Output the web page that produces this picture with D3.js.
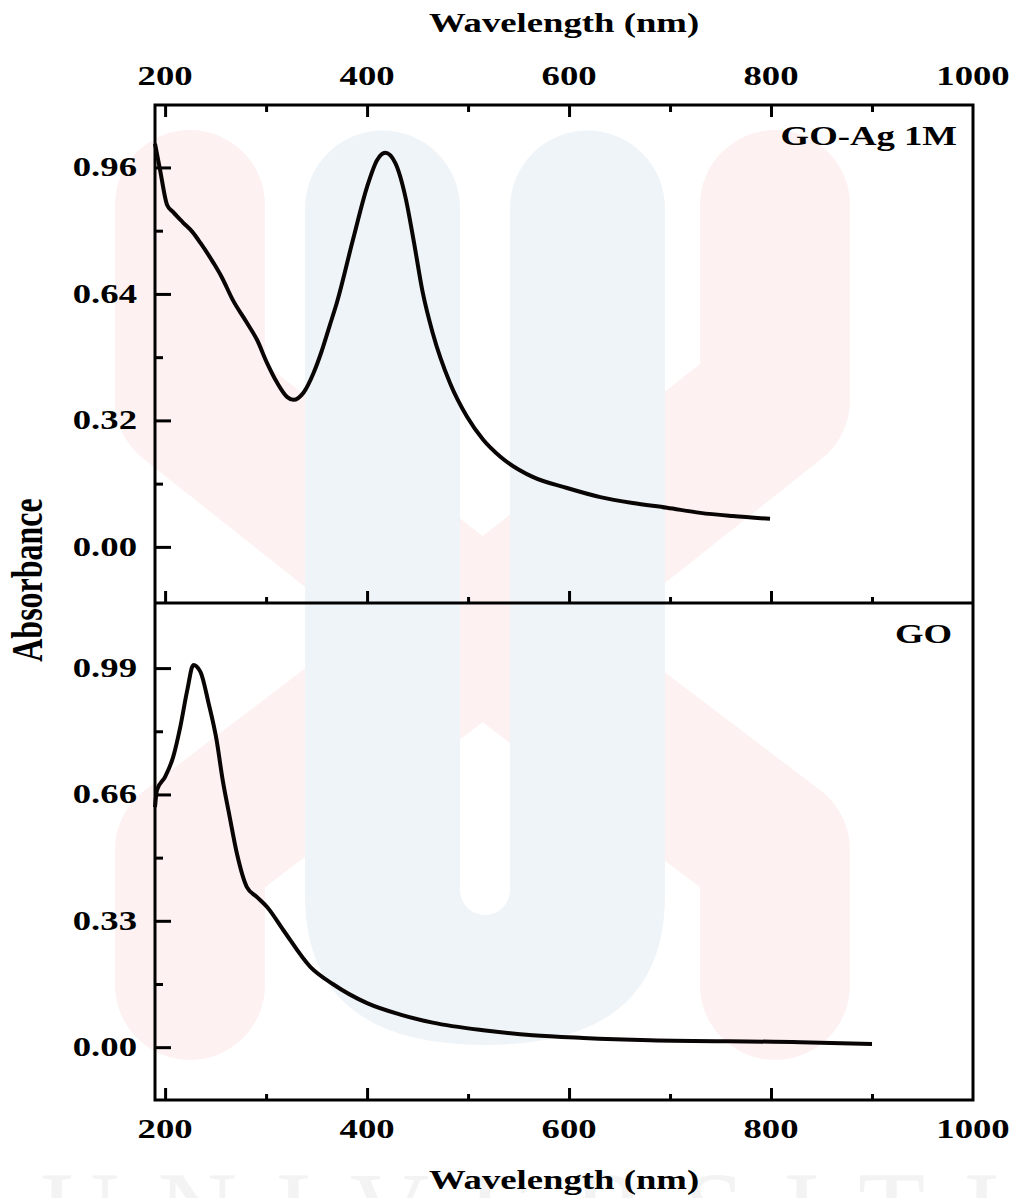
<!DOCTYPE html>
<html>
<head>
<meta charset="utf-8">
<script src="https://cdn.jsdelivr.net/npm/d3@7"></script>
<style>
  body { margin: 0; background: #fff; }
  text { font-family: "Liberation Serif", "Times New Roman", serif; font-weight: bold; fill: #000; }
</style>
</head>
<body>
<div id="chart"></div>
<script>
// Data
var agWavelength = [190, 195, 202, 208, 218, 227, 235, 248, 256, 267, 281, 291, 301, 311, 321, 327, 337, 347, 355, 363, 370, 386, 400, 410, 418, 428, 438, 446, 455, 465, 482, 499, 515, 532, 564, 598, 631, 663, 697, 730, 762, 799];
var agAbsorbance = [1.02, 0.954, 0.865, 0.847, 0.82, 0.797, 0.769, 0.718, 0.683, 0.625, 0.567, 0.524, 0.465, 0.415, 0.379, 0.372, 0.39, 0.44, 0.495, 0.56, 0.617, 0.777, 0.911, 0.979, 0.997, 0.971, 0.885, 0.777, 0.645, 0.541, 0.415, 0.329, 0.271, 0.228, 0.177, 0.149, 0.126, 0.111, 0.099, 0.086, 0.078, 0.071];

var goWavelength = [190, 192, 200, 208, 215, 222, 228, 235, 243, 251, 257, 264, 271, 281, 291, 301, 317, 344, 366, 400, 433, 465, 515, 564, 614, 680, 829, 900];
var goAbsorbance = [0.627, 0.672, 0.706, 0.758, 0.836, 0.933, 0.998, 0.98, 0.899, 0.802, 0.698, 0.601, 0.507, 0.418, 0.392, 0.366, 0.306, 0.209, 0.165, 0.115, 0.085, 0.064, 0.044, 0.031, 0.024, 0.018, 0.013, 0.008];

var xTicks = [200, 400, 600, 800, 1000];
var xMinor = [300, 500, 700, 900];
var agTicks = [0, 0.32, 0.64, 0.96];
var agMinor = [0.16, 0.48, 0.80];
var goTicks = [0, 0.33, 0.66, 0.99];
var goMinor = [0.165, 0.495, 0.825];

var svgWidth = 1017;
var svgHeight = 1198;
var plotLeft = 155, plotRight = 973, plotTop = 105, plotMid = 603, plotBottom = 1100;
var stretch = "scale(1.36,1)";

var svg = d3.select("#chart")
  .append("svg")
  .attr("width", svgWidth)
  .attr("height", svgHeight);

// faint watermark in the background
var wm = svg.append("g");
wm.append("path")
  .attr("d", "M190,205 L190,400 L480,630 L190,850 L190,985 M775,205 L775,400 L485,630 L775,850 L775,985")
  .attr("fill", "none")
  .attr("stroke", "#fdf1f1")
  .attr("stroke-width", 150)
  .attr("stroke-linejoin", "round")
  .attr("stroke-linecap", "round");
wm.append("path")
  .attr("d", "M305,208 A77.5,77.5 0 0 1 460,208 L460,890 A25,25 0 0 0 510,890 L510,208 A77.5,77.5 0 0 1 665,208 L665,895 Q665,1045 485,1045 Q305,1045 305,895 Z")
  .attr("fill", "#eff4f8");
wm.append("text")
  .attr("x", 40)
  .attr("y", 1248)
  .attr("font-size", 110)
  .attr("textLength", 960)
  .style("fill", "#f3f3f3")
  .style("font-weight", "normal")
  .text("UNIVERSITI");

// scales
var x = d3.scaleLinear().domain([190, 1000]).range([plotLeft, plotRight]);
var yAg = d3.scaleLinear().domain([-0.142, 1.118]).range([plotMid, plotTop]);
var yGo = d3.scaleLinear().domain([-0.138, 1.160]).range([plotBottom, plotMid]);

function tickGroup(axis, tx, ty) {
  var g = svg.append("g")
    .attr("transform", "translate(" + tx + "," + ty + ")")
    .call(axis);
  g.select(".domain").remove();
  g.selectAll("line").attr("stroke", "#000").attr("stroke-width", 3);
  return g;
}

// x ticks (inward)
tickGroup(d3.axisBottom(x).tickValues(xTicks.slice(0, 4)).tickSize(12).tickFormat(""), 0, plotTop);
tickGroup(d3.axisBottom(x).tickValues(xMinor).tickSize(7).tickFormat(""), 0, plotTop);
tickGroup(d3.axisTop(x).tickValues(xTicks.slice(0, 4)).tickSize(12).tickFormat(""), 0, plotMid);
tickGroup(d3.axisTop(x).tickValues(xMinor).tickSize(6).tickFormat(""), 0, plotMid);
tickGroup(d3.axisTop(x).tickValues(xTicks.slice(0, 4)).tickSize(12).tickFormat(""), 0, plotBottom);
tickGroup(d3.axisTop(x).tickValues(xMinor).tickSize(6).tickFormat(""), 0, plotBottom);

// y ticks (inward)
tickGroup(d3.axisRight(yAg).tickValues(agTicks).tickSize(16).tickFormat(""), plotLeft, 0);
tickGroup(d3.axisRight(yAg).tickValues(agMinor).tickSize(8).tickFormat(""), plotLeft, 0);
tickGroup(d3.axisRight(yGo).tickValues(goTicks).tickSize(16).tickFormat(""), plotLeft, 0);
tickGroup(d3.axisRight(yGo).tickValues(goMinor).tickSize(8).tickFormat(""), plotLeft, 0);

// frames
svg.append("rect")
  .attr("x", plotLeft).attr("y", plotTop)
  .attr("width", plotRight - plotLeft).attr("height", plotBottom - plotTop)
  .attr("fill", "none").attr("stroke", "#000").attr("stroke-width", 3);
svg.append("line")
  .attr("x1", plotLeft).attr("x2", plotRight)
  .attr("y1", plotMid).attr("y2", plotMid)
  .attr("stroke", "#000").attr("stroke-width", 3);

// tick labels
function xLabels(yBase) {
  svg.selectAll(null)
    .data(xTicks)
    .enter()
    .append("text")
    .attr("transform", d => "translate(" + x(d) + "," + yBase + ") " + stretch)
    .attr("text-anchor", "middle")
    .attr("font-size", 27)
    .text(d => d);
}
xLabels(85);
xLabels(1138);

function yLabels(ticks, scale) {
  svg.selectAll(null)
    .data(ticks)
    .enter()
    .append("text")
    .attr("transform", d => "translate(137," + (scale(d) + 9) + ") " + stretch)
    .attr("text-anchor", "end")
    .attr("font-size", 27)
    .text(d => d.toFixed(2));
}
yLabels(agTicks, yAg);
yLabels(goTicks, yGo);

// axis titles
svg.append("text")
  .attr("transform", "translate(564,32) " + stretch)
  .attr("text-anchor", "middle")
  .attr("font-size", 27)
  .text("Wavelength (nm)");
svg.append("text")
  .attr("transform", "translate(564,1189) " + stretch)
  .attr("text-anchor", "middle")
  .attr("font-size", 27)
  .text("Wavelength (nm)");
svg.append("text")
  .attr("transform", "translate(42,580) " + stretch + " rotate(-90)")
  .attr("text-anchor", "middle")
  .attr("font-size", 32)
  .text("Absorbance");

// panel labels
svg.append("text")
  .attr("transform", "translate(957,145) " + stretch)
  .attr("text-anchor", "end")
  .attr("font-size", 27)
  .text("GO-Ag 1M");
svg.append("text")
  .attr("transform", "translate(952,643) " + stretch)
  .attr("text-anchor", "end")
  .attr("font-size", 27)
  .text("GO");

// curves
var agLine = d3.line()
  .x((d, i) => x(agWavelength[i]))
  .y(d => yAg(d))
  .curve(d3.curveMonotoneX);
var goLine = d3.line()
  .x((d, i) => x(goWavelength[i]))
  .y(d => yGo(d))
  .curve(d3.curveMonotoneX);

svg.append("path")
  .attr("d", agLine(agAbsorbance))
  .attr("fill", "none")
  .attr("stroke", "#0a0505")
  .attr("stroke-width", 4)
  .attr("stroke-linejoin", "round");
svg.append("path")
  .attr("d", goLine(goAbsorbance))
  .attr("fill", "none")
  .attr("stroke", "#0a0505")
  .attr("stroke-width", 4)
  .attr("stroke-linejoin", "round");
</script>
</body>
</html>
